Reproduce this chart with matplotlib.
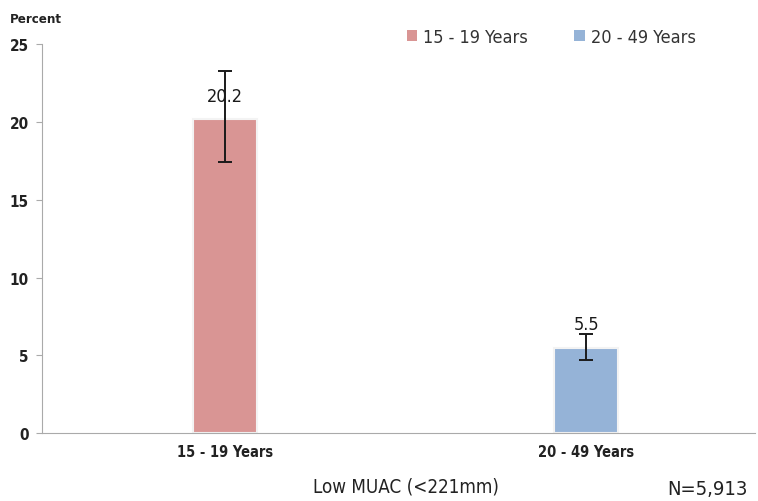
import matplotlib
matplotlib.use("Agg")
from matplotlib import pyplot as plt
from matplotlib.patches import Patch

plt.rcParams['font.family'] = ['DejaVu Sans']
plt.rcParams['font.stretch'] = 'condensed'

groups = ["15 - 19 Years", "20 - 49 Years"]
values = [20.2, 5.5]
err_low = [17.4, 4.7]
err_high = [23.3, 6.4]
colors = ["#D99594", "#95B3D7"]
yticks = [0, 5, 10, 15, 20, 25]

fig = plt.figure(figsize=(7.58, 5.02), dpi=100)
ax = fig.add_axes([0.056, 0.135, 0.94, 0.775])

x = list(range(len(groups)))
lower = [v - lo for v, lo in zip(values, err_low)]
upper = [hi - v for v, hi in zip(values, err_high)]
ax.bar(x, values, width=0.177, color=colors, edgecolor="#f3f3f3", linewidth=1.5, zorder=2)
ax.errorbar(x, values, yerr=[lower, upper], fmt="none", ecolor="#1a1a1a",
            elinewidth=1.4, capsize=5, capthick=1.4, zorder=3)

for xi, v in zip(x, values):
    ax.text(xi, v + 1.5, "%.1f" % v, ha="center", va="center", fontsize=13, color="#1a1a1a", zorder=4)

ax.set_xlim(-0.507, 1.468)
ax.set_ylim(0, 25)
ax.set_yticks(yticks)
ax.set_yticklabels([str(t) for t in yticks], fontsize=11, fontweight="bold", color="#222222")
ax.set_xticks(x)
ax.set_xticklabels(groups, fontsize=10.5, fontweight="bold", color="#222222")
ax.tick_params(axis="x", length=0, pad=8)
ax.tick_params(axis="y", length=4, color="#aaaaaa", pad=6)

for s in ["top", "right"]:
    ax.spines[s].set_visible(False)
for s in ["left", "bottom"]:
    ax.spines[s].set_color("#aaaaaa")

fig.text(0.013, 0.962, "Percent", fontsize=9.5, fontweight="bold", color="#222222", va="center")
fig.text(0.535, 0.03, "Low MUAC (<221mm)", fontsize=13.5, color="#222222", ha="center", va="center")
fig.text(0.987, 0.025, "N=5,913", fontsize=14.5, color="#222222", ha="right", va="center")

handles = [Patch(facecolor=c, edgecolor="none") for c in colors]
fig.legend(handles, groups, loc="center", bbox_to_anchor=(0.727, 0.925), ncol=2, frameon=False,
           fontsize=13, labelcolor="#333333", handlelength=0.6, handleheight=0.6,
           handletextpad=0.3, columnspacing=2.6)

fig.savefig("out.png", dpi=100)
